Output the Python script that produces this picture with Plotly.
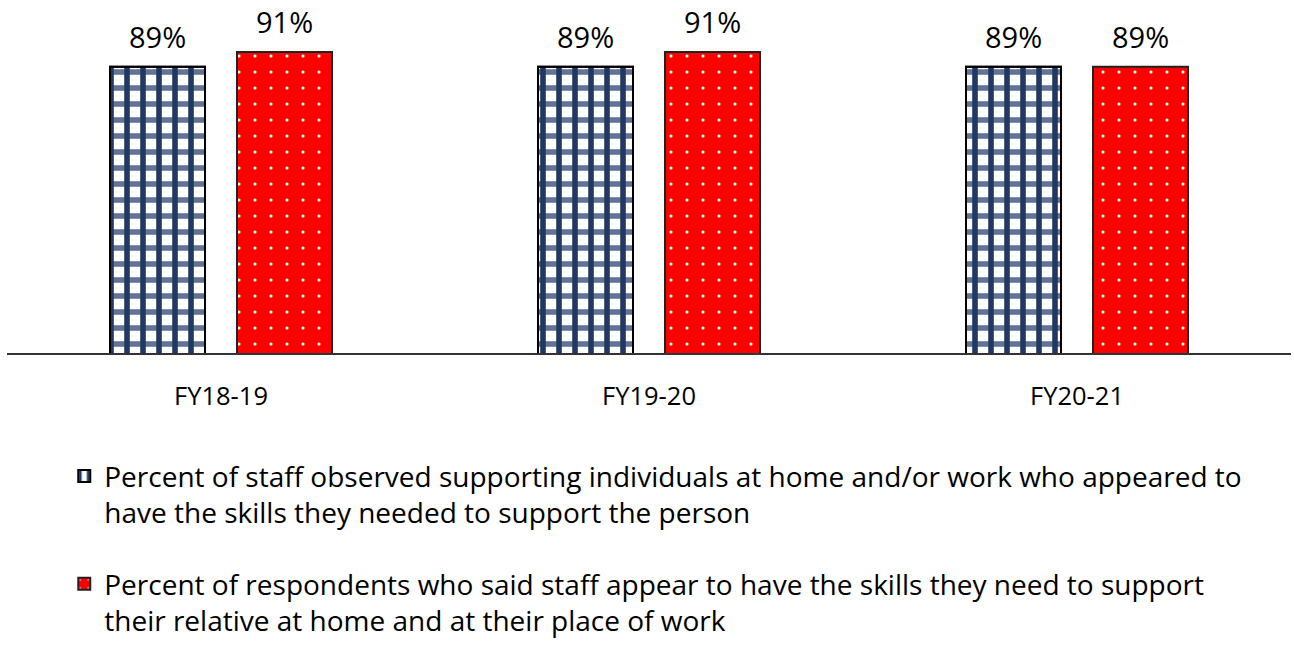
import plotly.graph_objects as go

categories = ["FY18-19", "FY19-20", "FY20-21"]
staff_observed = [89, 89, 89]
respondents = [91, 91, 89]
series_names = [
    "Percent of staff observed supporting individuals at home and/or work who appeared to<br>have the skills they needed to support the person",
    "Percent of respondents who said staff appear to have the skills they need to support<br>their relative at home and at their place of work",
]

FONT = "Open Sans"
NAVY = "#1F3864"
BAR_W = 95 / 428
OFF_BLUE = -111 / 428
OFF_RED = 16 / 428

fig = go.Figure()
fig.add_trace(go.Bar(
    x=categories, y=staff_observed, name=series_names[0], legendgroup="a",
    width=BAR_W, offset=OFF_BLUE,
    marker=dict(color=NAVY, line=dict(color="black", width=2),
                pattern=dict(shape="|", fgcolor=NAVY, bgcolor="white",
                             size=16, solidity=0.35, fillmode="replace")),
))
fig.add_trace(go.Bar(
    x=categories, y=staff_observed, showlegend=False, legendgroup="a",
    width=BAR_W, offset=OFF_BLUE, hoverinfo="skip",
    marker=dict(color="rgba(0,0,0,0)", line=dict(color="black", width=2),
                pattern=dict(shape="-", fgcolor="rgba(31,56,100,0.7)",
                             bgcolor="rgba(0,0,0,0)",
                             size=16, solidity=0.35, fillmode="replace")),
))
fig.add_trace(go.Bar(
    x=categories, y=respondents, name=series_names[1], legendgroup="b",
    width=BAR_W, offset=OFF_RED,
    marker=dict(color="#FF0000", line=dict(color="#222222", width=2),
                pattern=dict(shape=".", fgcolor="white", bgcolor="#FF0000",
                             size=16, solidity=0.03, fillmode="replace")),
))

offsets = [-63.5, 63.5]
for vals, off in zip([staff_observed, respondents], offsets):
    for c, v in zip(categories, vals):
        fig.add_annotation(x=c, y=v, text=f"{v}%", showarrow=False,
                           xref="x", yref="y", xshift=off, yanchor="bottom",
                           yshift=9, font=dict(family=FONT, size=29, color="black"))

fig.update_layout(
    width=1294, height=645,
    margin=dict(l=7, r=3, t=0, b=292, autoexpand=False),
    paper_bgcolor="white", plot_bgcolor="white",
    barmode="overlay",
    font=dict(family=FONT, size=26, color="black"),
    showlegend=True,
    legend=dict(x=0.0446, y=-0.2785, xanchor="left", yanchor="top",
                orientation="v", valign="top", tracegroupgap=32,
                font=dict(family=FONT, size=28, color="black"),
                itemwidth=30),
    xaxis=dict(showline=True, linecolor="#333333", linewidth=2, ticks="",
               ticklabelstandoff=19, tickfont=dict(family=FONT, size=25.5),
               range=[-0.5, 2.5]),
    yaxis=dict(range=[50, 98.1], visible=False, showgrid=False),
)
fig.write_html("out.html", config={"displayModeBar": False},
               post_script="document.body.style.margin='0';")
